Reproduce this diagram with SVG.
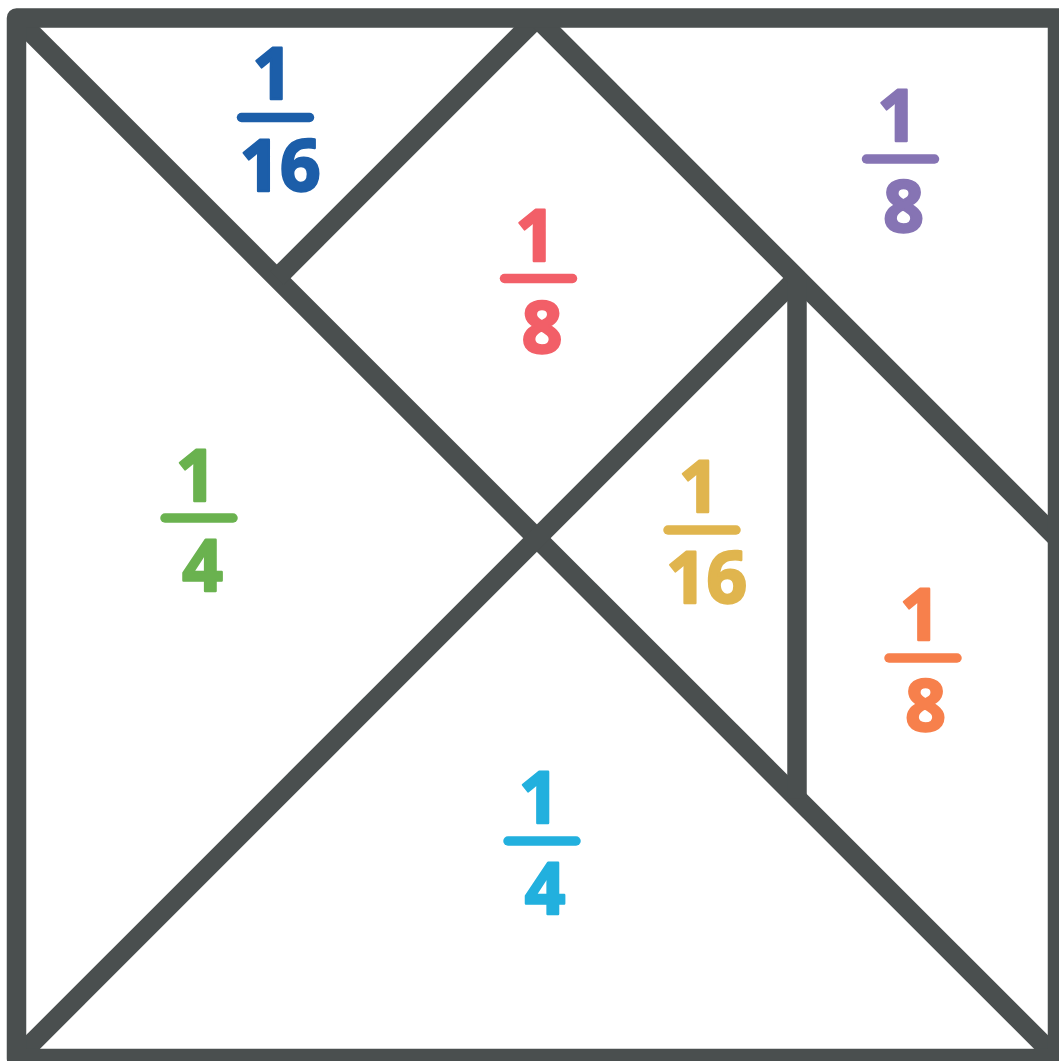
<svg xmlns="http://www.w3.org/2000/svg" width="1059" height="1061" viewBox="0 0 1059 1061">
  <style>
    .edge { fill: none; stroke: #4a4f4f; stroke-width: 19.5; stroke-linecap: butt; stroke-linejoin: round; }
    .num { font-family: "Open Sans", "Liberation Sans", sans-serif; font-weight: 700; font-size: 71px; text-anchor: middle; stroke-width: 2.4; stroke-linejoin: round; }
    .bar { stroke-width: 9.5; stroke-linecap: round; fill: none; }
  </style>
  <rect width="1059" height="1061" fill="#ffffff"/>
  <g id="connectors">
    <line class="edge" x1="16.5" y1="18" x2="1057.5" y2="1058.5"/>
    <line class="edge" x1="16.5" y1="1058.5" x2="797" y2="278"/>
    <line class="edge" x1="537" y1="18" x2="277" y2="278"/>
    <line class="edge" x1="537" y1="18" x2="1057.5" y2="538.5"/>
    <line class="edge" x1="797" y1="278" x2="797" y2="798.5"/>
    <path class="edge" d="M16.5 18 H1057.5 V1058.5 H16.5 Z"/>
  </g>
  <g id="piece-small-top" fill="#1c5ea9" stroke="#1c5ea9">
    <text class="num" x="272.5" y="99">1</text>
    <line class="bar" x1="241.5" y1="117.5" x2="309.5" y2="117.5"/>
    <text class="num" x="280" y="191">16</text>
  </g>
  <g id="piece-top-right" fill="#8674b4" stroke="#8674b4">
    <text class="num" x="897.5" y="141">1</text>
    <line class="bar" x1="866.5" y1="159" x2="934.5" y2="159"/>
    <text class="num" x="903.5" y="232">8</text>
  </g>
  <g id="piece-square" fill="#f25f68" stroke="#f25f68">
    <text class="num" x="535.5" y="261">1</text>
    <line class="bar" x1="504.5" y1="278.5" x2="572.5" y2="278.5"/>
    <text class="num" x="542" y="353">8</text>
  </g>
  <g id="piece-large-left" fill="#6ab24f" stroke="#6ab24f">
    <text class="num" x="196" y="501">1</text>
    <line class="bar" x1="165" y1="518" x2="233" y2="518"/>
    <text class="num" x="202.5" y="591">4</text>
  </g>
  <g id="piece-small-middle" fill="#e0b54e" stroke="#e0b54e">
    <text class="num" x="699" y="512">1</text>
    <line class="bar" x1="668" y1="530" x2="736" y2="530"/>
    <text class="num" x="706.5" y="603">16</text>
  </g>
  <g id="piece-parallelogram" fill="#f7804c" stroke="#f7804c">
    <text class="num" x="920" y="640">1</text>
    <line class="bar" x1="889" y1="658" x2="957" y2="658"/>
    <text class="num" x="925.5" y="731">8</text>
  </g>
  <g id="piece-large-bottom" fill="#22b0de" stroke="#22b0de">
    <text class="num" x="539" y="823">1</text>
    <line class="bar" x1="508" y1="841" x2="576" y2="841"/>
    <text class="num" x="545" y="914">4</text>
  </g>
</svg>
